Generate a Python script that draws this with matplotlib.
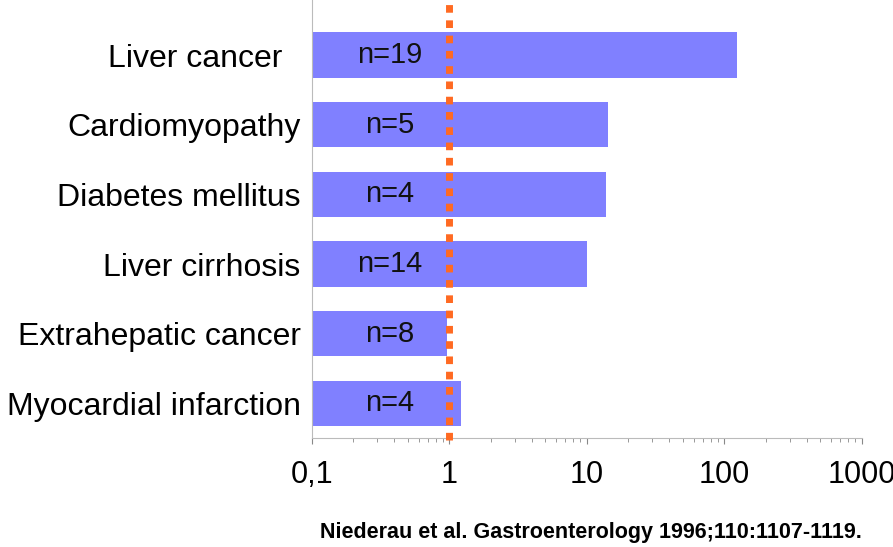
import numpy as np
import matplotlib.pyplot as plt
from matplotlib.ticker import FixedLocator, NullFormatter

plt.rcParams['font.family'] = ['Liberation Sans', 'DejaVu Sans']

causes = ['Liver cancer  ', 'Cardiomyopathy', 'Diabetes mellitus',
          'Liver cirrhosis', 'Extrahepatic cancer', 'Myocardial infarction']
smr = [123, 14.2, 13.9, 10.0, 0.96, 1.21]
counts = [19, 5, 4, 14, 8, 4]
xticks = [0.1, 1, 10, 100, 1000]
xtick_labels = ['0,1', '1', '10', '100', '1000']

base = 0.1
fig = plt.figure(figsize=(8.93, 5.47), dpi=100)
ax = fig.add_axes([0.349, 0.199, 0.616, 0.801])

y = np.arange(len(causes))
ax.barh(y, np.array(smr) - base, left=base, height=0.65, color='#8080FF')
for yi, n in zip(y, counts):
    ax.text(0.37, yi, f'n={n}', ha='center', va='center', fontsize=21,
            color='#111111')

# reference line at SMR = 1
ax.plot([1, 1], [5.52, -0.79], color='#FF6A22', lw=5, ls=(0, (1.1, 1.1)),
        clip_on=False, zorder=3)

ax.set_xscale('log')
ax.set_xlim(0.1, 1000)
ax.set_ylim(5.5, -0.79)
ax.set_yticks(y)
ax.set_yticklabels(causes, fontsize=23)
ax.set_xticks(xticks)
ax.set_xticklabels(xtick_labels, fontsize=22)
minors = [m * 10.0 ** e for e in range(-1, 3) for m in range(2, 10)]
ax.xaxis.set_minor_locator(FixedLocator(minors))
ax.xaxis.set_minor_formatter(NullFormatter())
ax.tick_params(axis='y', length=0, pad=8)
ax.tick_params(axis='x', which='major', length=4, color='#888888', pad=12)
ax.tick_params(axis='x', which='minor', length=3, color='#888888')

for side in ['top', 'right']:
    ax.spines[side].set_visible(False)
for side in ['left', 'bottom']:
    ax.spines[side].set_color('#BBBBBB')

fig.text(0.965, 0.026, 'Niederau et al. Gastroenterology 1996;110:1107-1119.',
         ha='right', va='center', fontsize=15.5, fontweight='bold')

fig.savefig('out.png', dpi=100)
